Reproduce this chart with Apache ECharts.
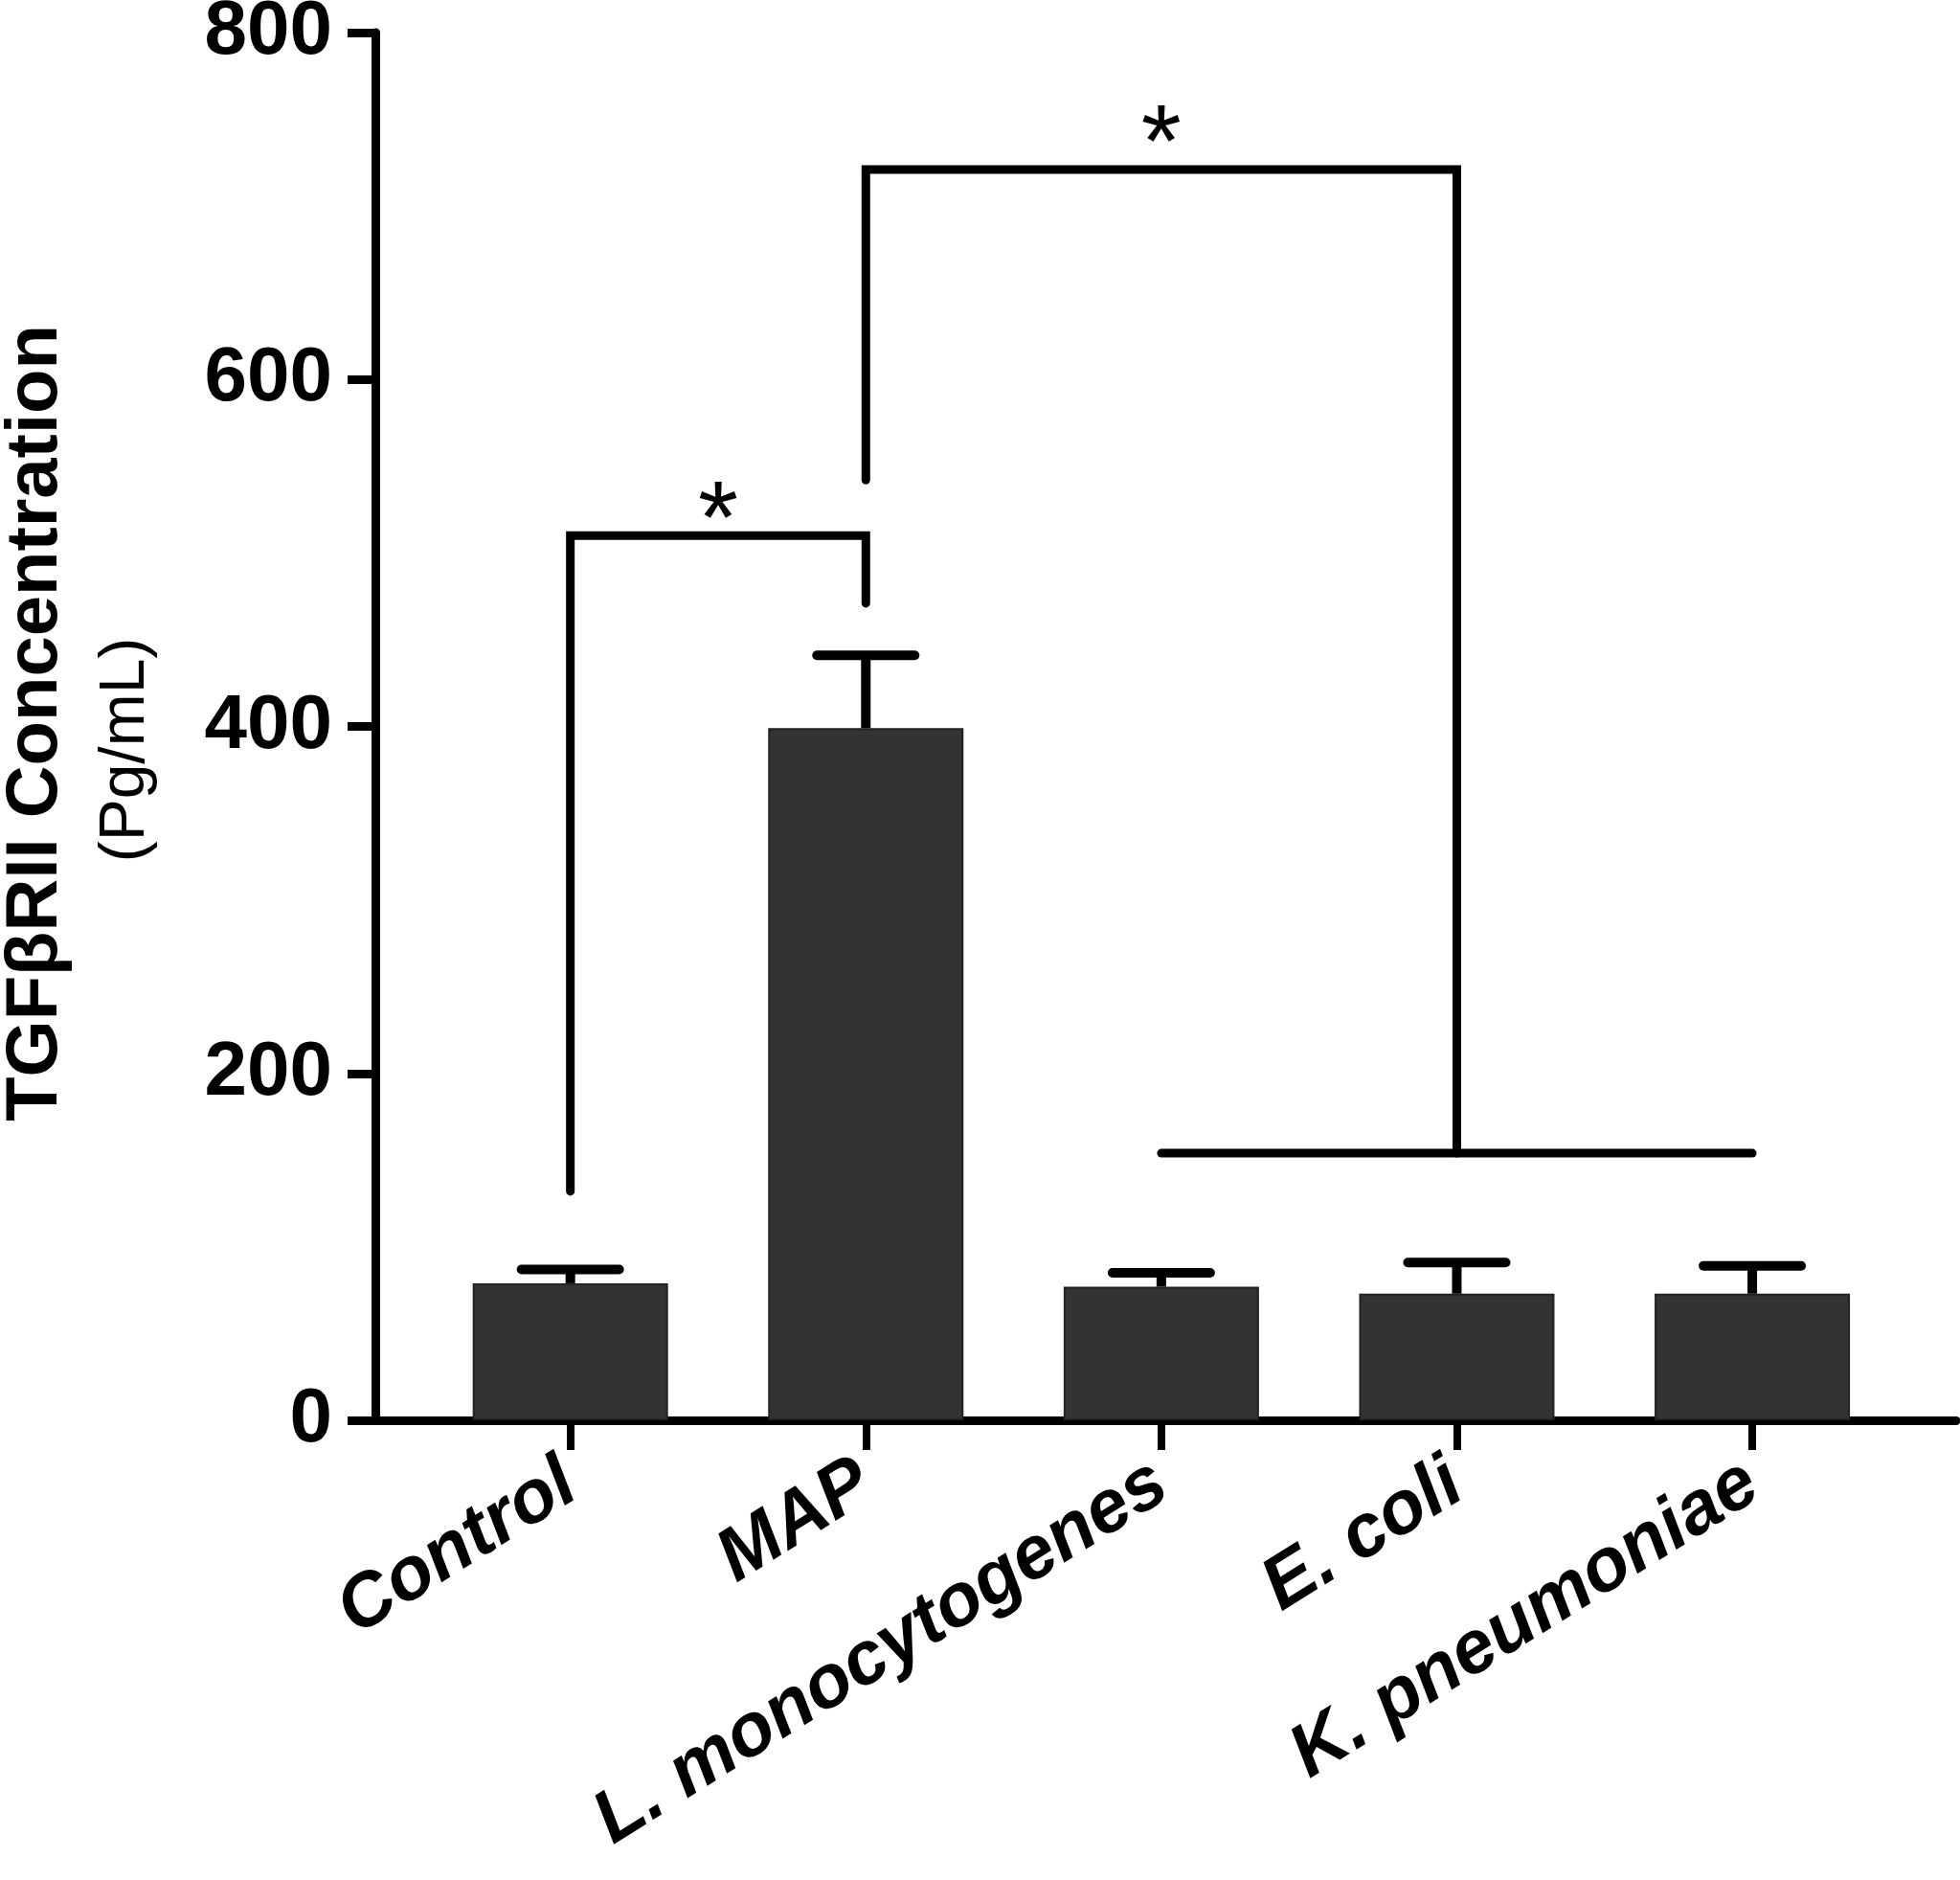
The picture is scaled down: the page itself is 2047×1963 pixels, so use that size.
<!DOCTYPE html>
<html>
<head>
<meta charset="utf-8">
<script src="https://cdn.jsdelivr.net/npm/echarts@6/dist/echarts.min.js"></script>
<style>
  html, body { margin: 0; padding: 0; background: #fff; }
  #main { width: 2047px; height: 1963px; }
</style>
</head>
<body>
<div id="main"></div>
<script>
// groups on the x axis
const categories = ['Control', 'MAP', 'L. monocytogenes', 'E. coli', 'K. pneumoniae'];
// bar heights (Pg/mL) and upper error
const means = [79, 399, 77, 73, 73];
const errors = [8, 42, 8, 18, 16];
// y axis ticks
const yMin = 0, yMax = 800, yStep = 200;
// significance brackets: [x start, y start, x end, y end, y top]
const brackets = [
  [0, 132, 1, 471, 510],
  [1, 542, 3, 154, 721]
];
// flat line joining several groups: [x start, x end, y]
const groupLines = [[2, 4, 154]];
// asterisks: [x, y]
const stars = [[0.5, 530], [2, 747]];

const FONT = '"Liberation Sans", Arial, Helvetica, sans-serif';
const LINE_W = 9;
const BAR_W = 204;
const CAP_W = 102;
const STAR_SIZE = 108;

const chart = echarts.init(document.getElementById('main'));

const barData = means.map((v, i) => [i, v]);
const errData = means.map((v, i) => [i, v, errors[i]]);

chart.setOption({
  backgroundColor: '#fff',
  animation: false,
  grid: { left: 392, right: 4, top: 34, bottom: 480, containLabel: false, outerBoundsMode: 'none' },
  xAxis: {
    type: 'value',
    min: -0.66,
    max: 4.69,
    splitLine: { show: false },
    axisLine: { onZero: false, lineStyle: { color: '#000', width: LINE_W } },
    axisTick: {
      customValues: [0, 1, 2, 3, 4],
      length: 31,
      lineStyle: { color: '#000', width: 8 }
    },
    axisLabel: {
      customValues: [0, 1, 2, 3, 4],
      formatter: v => categories[Math.round(v)],
      rotate: 32,
      margin: 60,
      color: '#000',
      fontFamily: FONT,
      fontSize: 78,
      fontWeight: 'bold',
      fontStyle: 'italic'
    }
  },
  yAxis: {
    type: 'value',
    min: yMin,
    max: yMax,
    interval: yStep,
    splitLine: { show: false },
    axisLine: { show: true, onZero: false, lineStyle: { color: '#000', width: LINE_W } },
    axisTick: { show: true, length: 29, lineStyle: { color: '#000', width: 9 } },
    axisLabel: {
      margin: 45,
      color: '#000',
      fontFamily: FONT,
      fontSize: 80,
      fontWeight: 'bold'
    }
  },
  graphic: [
    {
      type: 'text',
      x: 38, y: 755,
      rotation: Math.PI / 2,
      style: {
        text: 'TGFβRII Concentration',
        fill: '#000',
        font: 'bold 76px ' + FONT,
        align: 'center',
        verticalAlign: 'middle'
      }
    },
    {
      type: 'text',
      x: 132, y: 783,
      rotation: Math.PI / 2,
      style: {
        text: '(Pg/mL)',
        fill: '#000',
        font: '66px ' + FONT,
        align: 'center',
        verticalAlign: 'middle'
      }
    }
  ],
  series: [
    {
      type: 'bar',
      data: barData,
      barWidth: BAR_W,
      itemStyle: { color: '#333333', borderColor: '#222', borderWidth: 2 },
      z: 2
    },
    {
      // upper error bars
      type: 'custom',
      data: errData,
      z: 3,
      renderItem: function (params, api) {
        const x = api.value(0);
        const base = api.coord([x, api.value(1)]);
        const top = api.coord([x, api.value(1) + api.value(2)]);
        const st = { stroke: '#000', lineWidth: LINE_W + 1 };
        return {
          type: 'group',
          children: [
            { type: 'line', shape: { x1: base[0], y1: base[1], x2: top[0], y2: top[1] }, style: st },
            { type: 'line', shape: { x1: top[0] - CAP_W / 2, y1: top[1], x2: top[0] + CAP_W / 2, y2: top[1] }, style: Object.assign({ lineCap: 'round' }, st) }
          ]
        };
      }
    },
    {
      // brackets
      type: 'custom',
      data: brackets,
      z: 4,
      renderItem: function (params, api) {
        const x1 = api.value(0), y1 = api.value(1);
        const x2 = api.value(2), y2 = api.value(3), yt = api.value(4);
        return {
          type: 'polyline',
          shape: {
            points: [api.coord([x1, y1]), api.coord([x1, yt]), api.coord([x2, yt]), api.coord([x2, y2])]
          },
          style: { stroke: '#000', fill: null, lineWidth: LINE_W, lineJoin: 'miter', lineCap: 'round' }
        };
      }
    },
    {
      type: 'custom',
      data: groupLines,
      z: 4,
      renderItem: function (params, api) {
        const a = api.coord([api.value(0), api.value(2)]);
        const b = api.coord([api.value(1), api.value(2)]);
        return {
          type: 'line',
          shape: { x1: a[0], y1: a[1], x2: b[0], y2: b[1] },
          style: { stroke: '#000', lineWidth: LINE_W, lineCap: 'round' }
        };
      }
    },
    {
      type: 'custom',
      data: stars,
      z: 5,
      renderItem: function (params, api) {
        const p = api.coord([api.value(0), api.value(1)]);
        return {
          type: 'text',
          x: p[0],
          y: p[1] + STAR_SIZE * 0.22,
          style: {
            text: '*',
            fill: '#000',
            font: STAR_SIZE + 'px ' + FONT,
            align: 'center',
            verticalAlign: 'middle'
          }
        };
      }
    }
  ]
});
</script>
</body>
</html>
